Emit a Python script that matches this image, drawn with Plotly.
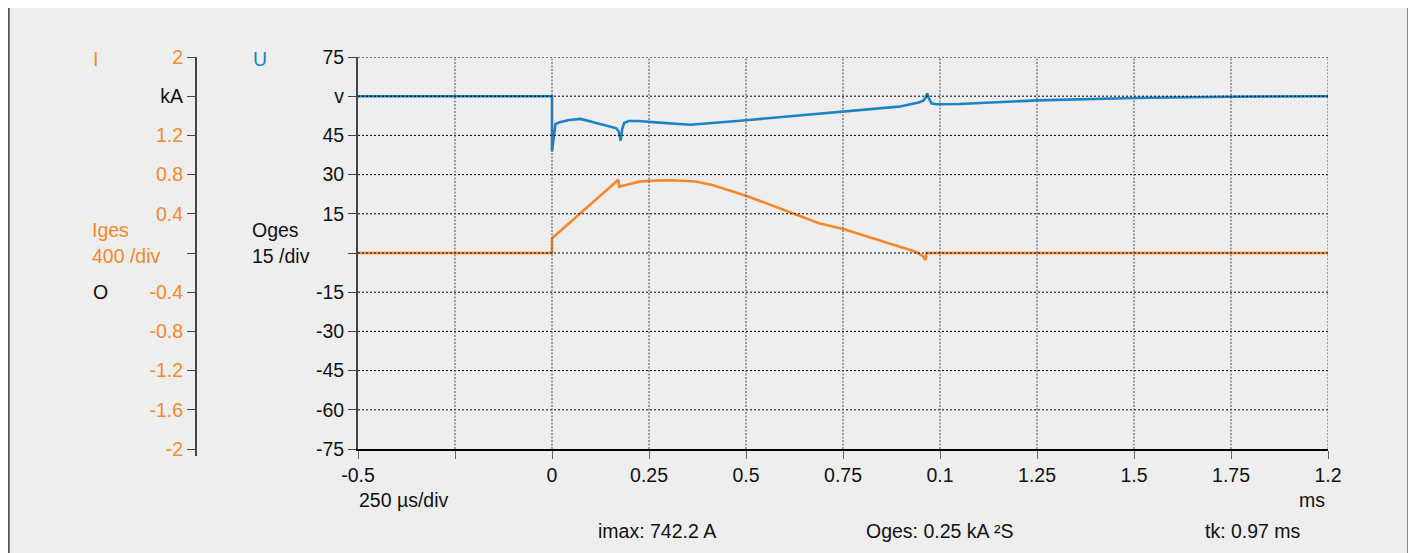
import plotly.graph_objects as go

# ---------------- data ----------------
# voltage U (V) vs time (ms)
t_u = [-0.5, 0.0, 0.0, 0.009, 0.02, 0.044, 0.074, 0.095, 0.138, 0.166, 0.172, 0.177, 0.181, 0.186,
       0.198, 0.224, 0.267, 0.357, 0.5, 0.75, 0.894, 0.945, 0.957, 0.963, 0.967, 0.972, 0.978,
       0.989, 1.05, 1.25, 1.5, 1.75, 2.0]
u_vals = [60, 60, 38.8, 49.4, 50.0, 50.9, 51.3, 50.5, 49.0, 47.7, 46.5, 43.0, 47.5, 49.8,
          50.5, 50.5, 50.0, 49.1, 50.8, 54.1, 56.0, 57.6, 58.3, 59.5, 61.1, 59.0, 57.3,
          56.9, 57.0, 58.4, 59.3, 59.8, 60.0]

# current I (kA) vs time (ms)
t_i = [-0.5, 0.0, 0.0, 0.171, 0.173, 0.224, 0.27, 0.31, 0.37, 0.413, 0.5, 0.62, 0.688,
       0.753, 0.903, 0.937, 0.955, 0.963, 0.965, 2.0]
i_vals = [0, 0, 0.15, 0.748, 0.677, 0.728, 0.740, 0.742, 0.730, 0.694, 0.585, 0.405, 0.303,
          0.242, 0.054, 0.013, -0.03, -0.071, 0, 0]

x_tickvals = [-0.5, -0.25, 0.0, 0.25, 0.5, 0.75, 1.0, 1.25, 1.5, 1.75, 2.0]
x_ticktext = ["-0.5", "", "0", "0.25", "0.5", "0.75", "0.1", "1.25", "1.5", "1.75", "1.2"]

u_tickvals = [75, 60, 45, 30, 15, 0, -15, -30, -45, -60, -75]
u_ticktext = ["75", "v", "45", "30", "15", "", "-15", "-30", "-45", "-60", "-75"]

i_tickvals = [2, 1.6, 1.2, 0.8, 0.4, 0, -0.4, -0.8, -1.2, -1.6, -2]
i_ticktext = ["2", "<span style='color:#111111'>kA</span>", "1.2", "0.8", "0.4", "",
              "-0.4", "-0.8", "-1.2", "-1.6", "-2"]

# ---------------- style ----------------
OFF = 8                    # page body margin offset
W, H = 1416 - OFF, 553 - OFF
PLOT_LEFT, PLOT_RIGHT, PLOT_TOP, PLOT_BOTTOM = 358, 1328, 57, 449   # in window pixels
ML = 0
MR = W - (PLOT_RIGHT - OFF)
MT = PLOT_TOP - OFF
MB = H - (PLOT_BOTTOM - OFF)
PW = W - ML - MR
PH = H - MT - MB
I_AXIS_X = 196

ORANGE = "#f5882b"
BLUE = "#1b84c6"
BLACK = "#111111"
BG = "#eeeeee"
FONT = "Liberation Sans, Arial, sans-serif"
FS = 19.5


def px(x):
    return (x - OFF - ML) / PW


def py(y):
    return (MT + PH - (y - OFF)) / PH


fig = go.Figure()
fig.add_trace(go.Scatter(x=t_i, y=i_vals, yaxis="y2", mode="lines",
                         line=dict(color=ORANGE, width=2.6), showlegend=False))
fig.add_trace(go.Scatter(x=t_u, y=u_vals, yaxis="y", mode="lines",
                         line=dict(color=BLUE, width=2.6), showlegend=False))

shapes = []
# background panel with white frame strip
shapes.append(dict(type="rect", xref="paper", yref="paper", layer="below",
                   x0=px(8), x1=px(1409), y0=py(560), y1=py(5),
                   fillcolor=BG, line=dict(width=0)))
shapes.append(dict(type="line", xref="paper", yref="paper", layer="above",
                   x0=px(8.5), x1=px(8.5), y0=py(560), y1=py(5),
                   line=dict(color="#555555", width=2.5)))
shapes.append(dict(type="line", xref="paper", yref="paper", layer="above",
                   x0=px(1409), x1=px(1409), y0=py(560), y1=py(0),
                   line=dict(color="#222222", width=3)))
# I axis line extension below
shapes.append(dict(type="line", xref="paper", yref="paper", layer="above",
                   x0=px(I_AXIS_X), x1=px(I_AXIS_X), y0=py(449), y1=py(456),
                   line=dict(color="#444444", width=2)))
# grid (drawn above traces like the reference)
for v in u_tickvals:
    if v == -75:
        continue
    shapes.append(dict(type="line", xref="x", yref="y", layer="above",
                       x0=-0.5, x1=2.0, y0=v, y1=v,
                       line=dict(color="#000000", width=1, dash="2px,2px")))
for v in x_tickvals:
    if v == -0.5:
        continue
    shapes.append(dict(type="line", xref="x", yref="y", layer="above",
                       x0=v, x1=v, y0=-75, y1=75,
                       line=dict(color="#666666", width=1.2, dash="2px,1.5px")))

annotations = []


def ann(text, x, y, color=BLACK, xanchor="left"):
    annotations.append(dict(text=text, x=px(x), y=py(y), xref="paper", yref="paper",
                            showarrow=False, xanchor=xanchor, yanchor="middle",
                            font=dict(family=FONT, size=FS, color=color)))


ann("I", 91, 59, ORANGE)
ann("U", 251, 59, BLUE)
ann("Iges", 90, 230, ORANGE)
ann("400 /div", 90, 256, ORANGE)
ann("Oges", 250, 230)
ann("15 /div", 250, 256)
ann("O", 91, 292)
ann("250 µs/div", 357, 500)
ann("ms", 1327, 500, xanchor="right")
ann("imax: 742.2 A", 596, 531)
ann("Oges: 0.25 kA ²S", 864, 531)
ann("tk: 0.97 ms", 1203, 531)

fig.update_layout(
    width=W, height=H, autosize=False,
    margin=dict(l=ML, r=MR, t=MT, b=MB, pad=0),
    paper_bgcolor="white", plot_bgcolor=BG,
    font=dict(family=FONT, size=FS, color=BLACK),
    showlegend=False,
    xaxis=dict(domain=[px(PLOT_LEFT), 1], range=[-0.5, 2.0], tickmode="array",
               tickvals=x_tickvals, ticktext=x_ticktext, showgrid=False, zeroline=False,
               showline=True, linecolor="#000000", linewidth=1.5,
               ticks="outside", ticklen=8, tickcolor="#666666", tickwidth=1.2,
               tickfont=dict(family=FONT, size=FS, color=BLACK), automargin=False,
               fixedrange=True),
    yaxis=dict(range=[-75, 75], tickmode="array", tickvals=u_tickvals, ticktext=u_ticktext,
               showgrid=False, zeroline=False, showline=True, linecolor="#444444",
               linewidth=2, ticks="outside", ticklen=8, tickcolor="#444444", tickwidth=1.2,
               tickfont=dict(family=FONT, size=FS, color=BLACK), automargin=False,
               layer="above traces"),
    yaxis2=dict(range=[-2, 2], overlaying="y", anchor="free", position=px(I_AXIS_X),
                side="left", tickmode="array", tickvals=i_tickvals, ticktext=i_ticktext,
                showgrid=False, zeroline=False, showline=True, linecolor="#444444",
                linewidth=2, ticks="outside", ticklen=8, tickcolor="#444444", tickwidth=1.2,
                tickfont=dict(family=FONT, size=FS, color=ORANGE), automargin=False),
    shapes=shapes,
    annotations=annotations,
)

fig.write_html("out.html")
